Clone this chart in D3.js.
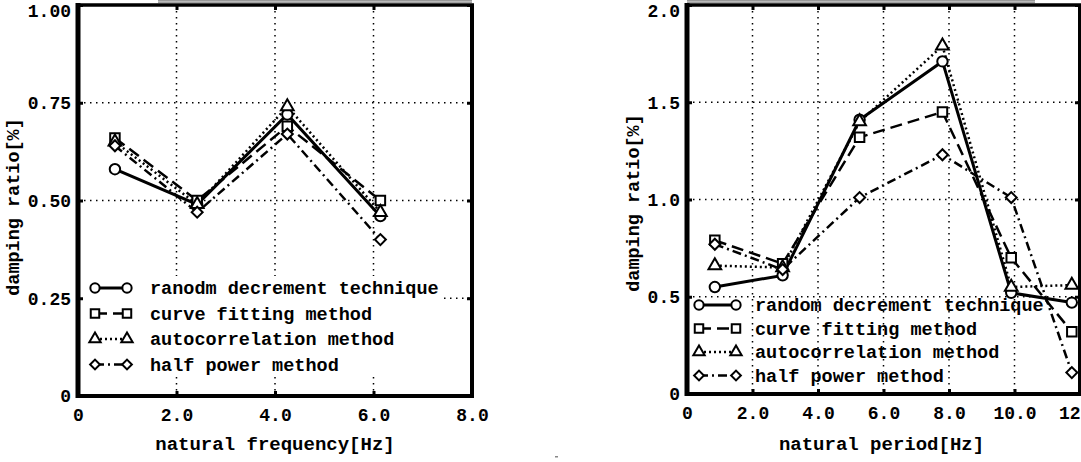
<!DOCTYPE html>
<html lang="en">
<head>
<meta charset="UTF-8">
<script src="https://d3js.org/d3.v7.min.js"></script>
<style>
  body { margin: 0; background: #fff; }
  text { font-family: "Liberation Mono", "DejaVu Sans Mono", monospace; font-weight: bold; fill: #000; }
</style>
</head>
<body>
<div id="chart"></div>
<script>
// ---- data ----
const freqX      = [0.75, 2.42, 4.25, 6.14];
const freqRandom = [0.58, 0.49, 0.72, 0.46];
const freqCurve  = [0.66, 0.50, 0.69, 0.50];
const freqAuto   = [0.65, 0.49, 0.74, 0.47];
const freqHalf   = [0.64, 0.47, 0.67, 0.40];

const perX      = [0.85, 2.92, 5.27, 7.80, 9.90, 11.75];
const perRandom = [0.55, 0.61, 1.41, 1.71, 0.52, 0.47];
const perCurve  = [0.79, 0.67, 1.32, 1.45, 0.70, 0.32];
const perAuto   = [0.66, 0.65, 1.40, 1.79, 0.55, 0.56];
const perHalf   = [0.77, 0.64, 1.01, 1.23, 1.01, 0.11];

const freqNames = ["ranodm decrement technique", "curve fitting method", "autocorrelation method", "half power method"];
const perNames  = ["random decrement technique", "curve fitting method", "autocorrelation method", "half power method"];

const freqXTicks = [0, 2, 4, 6, 8];
const freqYTicks = [0, 0.25, 0.5, 0.75, 1.0];
const perXTicks  = [0, 2, 4, 6, 8, 10, 12];
const perYTicks  = [0, 0.5, 1.0, 1.5, 2.0];

// one style per method: solid/circle, dashed/square, dotted/triangle, dash-dot/diamond
const styles = [
  { dash: null,       width: 3,   marker: "circle" },
  { dash: "12,6",     width: 2.5, marker: "square" },
  { dash: "2,3",      width: 2.5, marker: "triangle" },
  { dash: "9,4,2,4",  width: 2.5, marker: "diamond" }
];

const svg = d3.select("#chart").append("svg")
  .attr("width", 1081).attr("height", 462);

function marker(g, type, x, y, scale) {
  const k = scale || 1;
  let sym;
  if (type === "circle") sym = d3.symbol().type(d3.symbolCircle).size(85 * k);
  else if (type === "square") sym = d3.symbol().type(d3.symbolSquare).size(90 * k);
  else if (type === "triangle") sym = d3.symbol().type(d3.symbolTriangle).size(70 * k);
  else sym = d3.symbol().type(d3.symbolSquare).size(60 * k);
  g.append("path")
    .attr("d", sym())
    .attr("transform", `translate(${x},${y})` + (type === "diamond" ? " rotate(45)" : ""))
    .attr("fill", "#fff").attr("stroke", "#000").attr("stroke-width", 2);
}

function drawChart(c) {
  const g = svg.append("g");
  const x = d3.scaleLinear().domain(c.xDomain).range([c.left, c.right]);
  const y = d3.scaleLinear().domain(c.yDomain).range([c.bottom, c.top]);

  // faint double line above the frame (scan artefact)
  g.append("line").attr("x1", c.scanX0).attr("x2", c.scanX1).attr("y1", 0.8).attr("y2", 0.8)
    .attr("stroke", "#777").attr("stroke-width", 1.2);
  g.append("line").attr("x1", c.scanX0).attr("x2", c.scanX1).attr("y1", 2.6).attr("y2", 2.6)
    .attr("stroke", "#999").attr("stroke-width", 1);

  // dotted grid
  g.selectAll(".vg").data(c.xTicks.slice(1, -1)).enter().append("line")
    .attr("x1", d => x(d)).attr("x2", d => x(d))
    .attr("y1", c.top).attr("y2", c.bottom)
    .attr("stroke", "#000").attr("stroke-width", 1.5).attr("stroke-dasharray", "1.5,4.5");
  g.selectAll(".hg").data(c.yTicks.slice(1, -1)).enter().append("line")
    .attr("x1", c.left).attr("x2", c.right)
    .attr("y1", d => y(d)).attr("y2", d => y(d))
    .attr("stroke", "#000").attr("stroke-width", 1.5).attr("stroke-dasharray", "1.5,4.5");

  if (c.legendBg) {
    g.append("rect").attr("x", c.legendBg[0]).attr("y", c.legendBg[1])
      .attr("width", c.legendBg[2]).attr("height", c.legendBg[3]).attr("fill", "#fff");
  }

  // series
  const line = d3.line().x((d, i) => x(c.xs[i])).y(d => y(d));
  c.series.forEach((vals, k) => {
    const s = styles[k];
    g.append("path").datum(vals).attr("d", line)
      .attr("fill", "none").attr("stroke", "#000")
      .attr("stroke-width", s.width)
      .attr("stroke-dasharray", s.dash);
  });
  c.series.forEach((vals, k) => {
    vals.forEach((v, i) => marker(g, styles[k].marker, x(c.xs[i]), y(v)));
  });

  // legend
  c.names.forEach((name, k) => {
    const ly = c.legY + k * c.legStep;
    const s = styles[k];
    g.append("line").attr("x1", c.legX0).attr("x2", c.legX1).attr("y1", ly).attr("y2", ly)
      .attr("stroke", "#000").attr("stroke-width", s.width).attr("stroke-dasharray", s.dash);
    marker(g, s.marker, c.legX0, ly, 0.8);
    marker(g, s.marker, c.legX1, ly, 0.8);
    g.append("text").attr("x", c.legText).attr("y", ly).attr("dy", "0.35em")
      .style("font-size", "18.5px").text(name);
  });

  // axes (tick labels + inward ticks)
  const ax = g.append("g").attr("transform", `translate(0,${c.bottom})`)
    .call(d3.axisBottom(x).tickValues(c.xTicks).tickFormat(c.xFmt).tickSizeInner(-5).tickSizeOuter(0).tickPadding(12));
  const ay = g.append("g").attr("transform", `translate(${c.left},0)`)
    .call(d3.axisLeft(y).tickValues(c.yTicks).tickFormat(c.yFmt).tickSizeInner(-5).tickSizeOuter(0).tickPadding(7));
  const axTop = g.append("g").attr("transform", `translate(0,${c.top})`)
    .call(d3.axisTop(x).tickValues(c.xTicks).tickFormat("").tickSizeInner(-5).tickSizeOuter(0));
  const ayRight = g.append("g").attr("transform", `translate(${c.right},0)`)
    .call(d3.axisRight(y).tickValues(c.yTicks).tickFormat("").tickSizeInner(-5).tickSizeOuter(0));
  [ax, ay, axTop, ayRight].forEach(a => {
    a.select(".domain").remove();
    a.selectAll(".tick line").attr("stroke", "#000").attr("stroke-width", 3);
    a.selectAll("text").attr("font-family", null).attr("font-size", null)
      .style("font-size", "18px");
  });
  // top y label sits right at the top edge: nudge it down so it stays on the page
  ay.selectAll(".tick text").filter(d => d === c.yDomain[1]).attr("dy", "0.62em");
  // last x label sits at the right edge: right-align it
  if (c.lastXEnd) {
    ax.selectAll(".tick text").filter(d => d === c.xDomain[1])
      .attr("text-anchor", "end").attr("x", 0);
  }

  // frame
  g.append("line").attr("x1", c.left).attr("x2", c.left).attr("y1", c.top - 2).attr("y2", c.bottom + 2)
    .attr("stroke", "#000").attr("stroke-width", 5);
  g.append("line").attr("x1", c.left).attr("x2", c.right + 2).attr("y1", c.bottom).attr("y2", c.bottom)
    .attr("stroke", "#000").attr("stroke-width", 4);
  g.append("line").attr("x1", c.left).attr("x2", c.right + 2).attr("y1", c.top).attr("y2", c.top)
    .attr("stroke", "#000").attr("stroke-width", 3.5);
  g.append("line").attr("x1", c.right).attr("x2", c.right).attr("y1", c.top).attr("y2", c.bottom)
    .attr("stroke", "#000").attr("stroke-width", 4);

  // axis titles
  g.append("text").attr("x", (c.left + c.right) / 2 + c.xTitleShift).attr("y", 450)
    .attr("text-anchor", "middle").style("font-size", "19px").text(c.xTitle);
  g.append("text").attr("transform", `translate(${c.yTitleX},${c.yTitleY}) rotate(-90)`)
    .attr("text-anchor", "middle").attr("dy", "0.35em").style("font-size", "18.5px").text("damping ratio[%]");
}

drawChart({
  xDomain: [0, 8], yDomain: [0, 1], left: 78, right: 472, top: 5, bottom: 396,
  xs: freqX, series: [freqRandom, freqCurve, freqAuto, freqHalf], names: freqNames,
  xTicks: freqXTicks, yTicks: freqYTicks,
  xFmt: d => d === 0 ? "0" : d3.format(".1f")(d),
  yFmt: d => d === 0 ? "0" : d3.format(".2f")(d),
  legX0: 95, legX1: 127, legText: 150, legY: 288, legStep: 25.5,
  legendBg: [82, 276, 358, 100], lastXEnd: false,
  xTitle: "natural frequency[Hz]", xTitleShift: 0, yTitleX: 13, yTitleY: 207,
  scanX0: 158, scanX1: 472
});

drawChart({
  xDomain: [0, 12], yDomain: [0, 2], left: 687, right: 1080, top: 5, bottom: 394,
  xs: perX, series: [perRandom, perCurve, perAuto, perHalf], names: perNames,
  xTicks: perXTicks, yTicks: perYTicks,
  xFmt: d => d === 0 ? "0" : (d === 12 ? "12" : d3.format(".1f")(d)),
  yFmt: d => d === 0 ? "0" : d3.format(".1f")(d),
  legX0: 699, legX1: 736, legText: 755, legY: 305, legStep: 23.5,
  legendBg: null, lastXEnd: true,
  xTitle: "natural period[Hz]", xTitleShift: -2, yTitleX: 633, yTitleY: 203,
  scanX0: 687, scanX1: 1035
});

// small speck under the charts
svg.append("rect").attr("x", 555).attr("y", 456).attr("width", 3).attr("height", 1.5).attr("fill", "#888");
</script>
</body>
</html>
